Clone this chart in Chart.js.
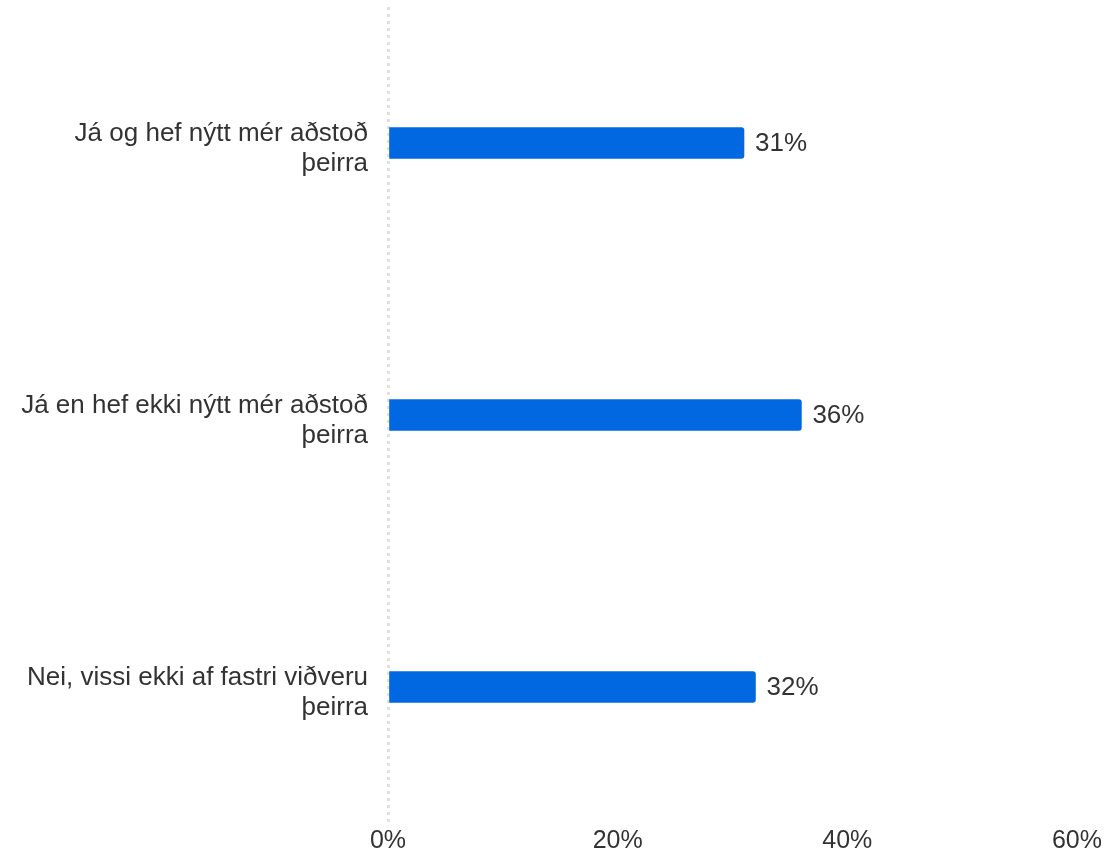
<!DOCTYPE html>
<html>
<head>
<meta charset="utf-8">
<script src="https://cdn.jsdelivr.net/npm/chart.js@4/dist/chart.umd.min.js"></script>
<style>
  body { margin: 0; background: #fff; }
  canvas { display: block; }
</style>
</head>
<body>
<canvas id="barChart" width="1105" height="853"></canvas>
<script>
const categories = [
  ['Já og hef nýtt mér aðstoð', 'þeirra'],
  ['Já en hef ekki nýtt mér aðstoð', 'þeirra'],
  ['Nei, vissi ekki af fastri viðveru', 'þeirra']
];
const values = [31, 36, 32];
const xTicks = [0, 20, 40, 60];

const fontFamily = 'Arial, "Liberation Sans", sans-serif';
const textColor = '#333333';

// prentar gildin við enda súlnanna
const valueLabels = {
  id: 'valueLabels',
  afterDatasetsDraw(chart) {
    const ctx = chart.ctx;
    const meta = chart.getDatasetMeta(0);
    ctx.save();
    ctx.font = '26px ' + fontFamily;
    ctx.fillStyle = textColor;
    ctx.textAlign = 'left';
    ctx.textBaseline = 'middle';
    meta.data.forEach((bar, i) => {
      ctx.fillText(values[i] + '%', bar.x + 11, bar.y + 1);
    });
    ctx.restore();
  }
};

const ctx = document.getElementById('barChart').getContext('2d');
const mychart = new Chart(ctx, {
  type: 'bar',
  data: {
    labels: categories,
    datasets: [{
      data: values,
      backgroundColor: '#0268e2',
      barThickness: 31,
      borderRadius: 3,
      borderSkipped: 'start'
    }]
  },
  options: {
    indexAxis: 'y',
    responsive: false,
    animation: false,
    layout: { padding: { top: 7, right: 0, left: 0, bottom: 0 } },
    plugins: {
      legend: { display: false },
      tooltip: { enabled: false }
    },
    scales: {
      x: {
        min: 0,
        max: 60,
        afterBuildTicks: (scale) => {
          scale.ticks = xTicks.map(v => ({ value: v }));
        },
        grid: {
          display: true,
          drawTicks: false,
          lineWidth: 3,
          color: (c) => (c.tick && c.tick.value === 0) ? '#e0e0e0' : 'rgba(0,0,0,0)'
        },
        border: { display: false, dash: [3, 4] },
        ticks: {
          padding: 3,
          color: textColor,
          font: { family: fontFamily, size: 25 },
          callback: (v) => v + '%'
        },
        afterFit: (scale) => { scale.height = 30; }
      },
      y: {
        grid: { display: false, drawTicks: false },
        border: { display: false },
        ticks: {
          padding: 20,
          labelOffset: 6,
          color: textColor,
          font: { family: fontFamily, size: 26, lineHeight: 1.15 }
        },
        afterFit: (scale) => {
          scale.width = 388;
          scale.paddingTop = 0;
          scale.paddingBottom = 0;
        }
      }
    }
  },
  plugins: [valueLabels]
});
</script>
</body>
</html>
